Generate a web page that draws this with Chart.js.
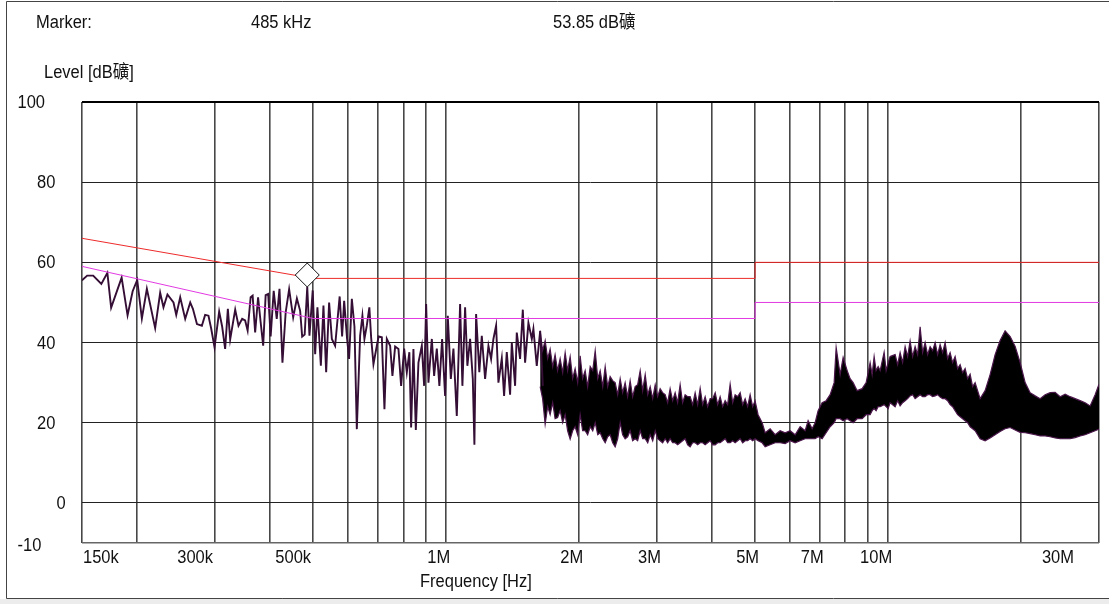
<!DOCTYPE html>
<html>
<head>
<meta charset="utf-8">
<script src="https://cdn.jsdelivr.net/npm/chart.js"></script>
<style>
  html, body { margin: 0; padding: 0; background: #fff; }
  #wrap { width: 1109px; height: 604px; }
</style>
</head>
<body>
<div id="wrap"><canvas id="emiChart" width="1109" height="604"></canvas></div>
<script>
// conducted emission scan, frequencies in kHz, levels in dBuV

// grid + labels
const xGridKHz = [150, 200, 300, 400, 500, 600, 700, 800, 900, 1000, 2000, 3000, 4000, 5000,
  6000, 7000, 8000, 9000, 10000, 20000, 30000];
const xLabelKHz = [150, 300, 500, 1000, 2000, 3000, 5000, 7000, 10000, 30000];
const xLabelText = ['150k', '300k', '500k', '1M', '2M', '3M', '5M', '7M', '10M', '30M'];
const yTicks = [-10, 0, 20, 40, 60, 80, 100];

// marker
const markerKHz = 485;
const markerDb = 53.85;

// limit lines
const qpLimitKHz = [150, 500, 5000, 5000, 30000];
const qpLimitDb = [66, 56, 56, 60, 60];
const avLimitKHz = [150, 500, 5000, 5000, 30000];
const avLimitDb = [59, 46, 46, 50, 50];

// low band trace (individual sweep points)
const traceKHz = [150, 154.1, 159, 165.9, 171.2, 174.6, 184.4, 190.2, 195.3, 200, 204.9, 210.3,
  219.6, 225.4, 229.3, 234.1, 241.6, 245.1, 250.2, 256.8, 263.6, 267.3, 273, 280.1, 284.9, 289.9,
  294, 299.2, 306.5, 311.3, 316.2, 320.7, 324.6, 333.2, 339, 345.5, 350.9, 355.5, 361.1, 364.9,
  369.7, 375.4, 380.5, 385.5, 390.5, 395.7, 400.8, 407.2, 413.7, 419.7, 426.2, 433.4, 441.3,
  450.7, 459.5, 467.4, 472.3, 478.5, 485, 490.6, 499, 505.4, 511.4, 520.6, 527.7, 535.2, 543.5,
  551.3, 560.8, 574.2, 581.6, 587.8, 596.9, 603.1, 611.8, 620.2, 627.9, 638.8, 646.5, 653.3,
  661.4, 670.3, 676.5, 684.7, 696.9, 703.4, 715.3, 725.1, 734.1, 746.9, 755.9, 766.6, 780,
  790.9, 803.4, 814.7, 825.6, 833.2, 843.3, 853.9, 865.6, 881, 891.6, 901, 911.9, 928.1, 939.3,
  952.5, 965.3, 979.2, 994.6, 1008.5, 1024.7, 1038.7, 1057, 1075.4, 1088.4, 1103.8, 1116.9,
  1132.9, 1149, 1158.6, 1168.9, 1188.7, 1204.1, 1225, 1246.4, 1263.9, 1279.2, 1297.3, 1313,
  1336.3, 1352.4, 1371.4, 1395.4, 1407.8, 1432.2, 1444.8, 1470, 1490.9, 1508.8, 1535.1, 1562.4,
  1575.5, 1603.4, 1632, 1655.2];
const traceDb = [55.5, 56.7, 56.7, 54.6, 57.4, 48.7, 56.2, 46.8, 52.8, 55.6, 46, 53.4,
  43.6, 52.4, 48.8, 52, 50, 46.9, 51.3, 45.9, 50, 48.4, 44.6, 44.2, 46.9, 46.7,
  43.5, 38.8, 47.7, 44, 38.4, 48.4, 40.8, 48.2, 44.2, 45.9, 45.5, 43, 51.3, 51.7,
  42.5, 51.3, 45, 39.2, 51.8, 52.1, 41.5, 52.9, 45.9, 53.4, 35, 47.5, 53.3,
  46.3, 51, 47.9, 41.5, 42, 53.85, 41.7, 53, 37.1, 48.8, 34.2, 49.2, 32.6, 50,
  40.9, 39.2, 51.5, 41.5, 50.4, 40.9, 35.9, 50.9, 44, 18.4, 41.7, 46.7, 40.9,
  44.2, 48.8, 41.3, 34.6, 39.2, 41.5, 41.3, 23.4, 40.9, 39.2, 31.7, 39, 38.4,
  29.2, 38.5, 32.6, 37.6, 18.8, 38.4, 18.2, 35, 39.2, 29.2, 49.6, 30, 40.9, 31.7,
  38.5, 29.2, 40.9, 26.7, 46.7, 30.9, 38.5, 21.7, 49.6, 29.2, 48.8, 34.2,
  40.9, 30.9, 14.5, 47.1, 32.6, 41.7, 30.9, 39.2, 35.9, 40.9, 44.2, 30,
  36, 26.7, 37.6, 27, 40, 29.2, 42.5, 35.9, 48.2, 35, 44.9, 40.9,
  43.4, 34.2, 42.9, 29.2];

// upper band: the sweep is too dense to resolve, so keep its top and bottom edge
const bandKHz = [1632, 1653, 1675, 1697, 1719, 1742, 1764, 1787, 1811, 1835, 1859, 1883, 1908,
  1933, 1958, 1984, 2010, 2036, 2063, 2090, 2118, 2146, 2174, 2203, 2231, 2261, 2290, 2320, 2350,
  2381, 2412, 2444, 2476, 2508, 2541, 2574, 2608, 2642, 2677, 2712, 2748, 2784, 2821, 2858, 2895,
  2933, 2972, 3010, 3049, 3089, 3130, 3171, 3212, 3254, 3297, 3340, 3384, 3428, 3473, 3519, 3565,
  3612, 3659, 3707, 3756, 3805, 3855, 3905, 3957, 4009, 4062, 4115, 4168, 4223, 4278, 4334, 4391,
  4449, 4507, 4566, 4626, 4687, 4748, 4810, 4873, 4937, 5000,
  5079, 5188, 5270, 5408, 5551, 5697,
  5848, 6002, 6161, 6323, 6490, 6592, 6731, 6837, 6944, 7091, 7240, 7393, 7549, 7628, 7788, 7911,
  8079, 8204, 8334, 8510, 8734, 8918, 9105, 9201, 9297, 9392, 9493, 9593, 9794, 9897, 10001,
  10105, 10372, 10508, 10645, 10784, 10926, 11069, 11214, 11361, 11510, 11661, 11814, 11969,
  12126, 12285, 12446, 12609, 12775, 12942, 13111, 13283, 13457, 13633, 13812, 13993, 14177,
  14363, 14551, 14742, 14935, 15131, 15329, 15530,
  15734, 16149, 16575, 17013, 17462, 17922, 18395, 18884, 19383, 19893, 20418, 20957, 21510,
  22077, 22660, 23258, 23872, 24501, 25148, 25812, 26493, 27192, 27910, 28646, 29402, 30000];
const bandHiDb = [42.9, 38, 40.5, 36, 38.4, 34, 37, 33, 36, 32.5, 37.5, 33, 36.5,
  31, 33.5, 30, 36.7, 31, 33, 29, 34, 33, 38, 31, 33, 29, 34, 29, 31.5,
  30.5, 30, 27, 31, 27.5, 30, 26.5, 30.5, 26.5, 29, 29.5, 33, 28, 32, 27, 29,
  26, 29.5, 26.5, 28.5, 27.5, 27, 25, 28.5, 25.5, 27.5, 25, 29.5, 25, 27, 26.5, 26.5,
  24.5, 27.5, 24.5, 28.6, 24.5, 26.5, 24, 26, 26, 27.5, 24.5, 26.5, 24, 25.5, 24.5, 29.6,
  25, 27, 26.5, 27.5, 24.5, 26, 24, 27, 24, 25.5,
  22, 20, 17.5, 18.5, 17, 18,
  17.5, 18, 17, 19, 18, 20.5, 18.5, 20, 23, 25, 25.5, 27, 30, 38.8, 32, 36.3,
  33, 31, 30, 28, 28.5, 30, 35, 32, 36.5, 33, 34, 33, 37.6, 33, 35,
  36.5, 37, 34.5, 37.5, 35, 39, 36.5, 40.4, 36.5, 39, 37, 43.9, 37.5,
  40, 37, 39, 38, 40, 37, 39.5, 37.5, 40, 36, 37.5, 35, 36.5,
  33.5, 34.5, 32.5, 33.5, 31, 32.1, 29,
  30, 26, 28, 32, 37, 40.5, 42.9, 41.5, 39, 35, 30, 27.5, 26.7,
  26, 27, 27.5, 27.6, 26.5, 27.1, 26.5, 26, 25.5, 25, 24.2, 27, 29.6];
const bandLoDb = [29, 26, 19.6, 24, 22, 25, 21, 21.3, 23, 20, 22, 18, 15.9,
  18, 19, 17, 22, 18, 18, 17, 19, 18, 20, 17, 17.5, 16, 15, 16.5, 17,
  15, 14, 16, 20, 17, 16, 16.5, 18, 15.5, 16, 15.5, 18, 16, 16, 15, 17,
  15.5, 18, 16, 15.5, 15, 16, 15, 16, 15, 15, 14.5, 15, 15.5, 16, 14.5, 14,
  15, 15, 14.5, 15, 15, 14.5, 15, 15.5, 14.5, 14.5, 15, 15, 15.5, 16, 15, 15,
  15.5, 15, 15.5, 16, 15, 15.5, 15.5, 16, 15.5, 16,
  15.5, 15, 14, 14.5, 15, 15,
  14.8, 15.5, 15, 15.5, 16, 16, 16, 16, 16.5, 16, 17.5, 19, 20, 21, 21, 20.5,
  21, 20.5, 20, 21, 21, 22, 22, 23, 23.5, 23, 24, 24, 24.5, 24, 23.5,
  25, 24, 25.5, 24.2, 25, 25.5, 26, 26.7, 27, 26, 26.5, 27, 26.5,
  26.5, 27, 27, 26.5, 26.7, 27, 26.4, 26, 26, 25.5, 24.5, 24, 23,
  22, 21.5, 21, 20.5, 20, 19, 18.5,
  18, 16, 15.5, 16.2, 17, 17.8, 18.5, 18.8, 18.2, 17.6, 17.5, 17.3, 17,
  16.7, 16.7, 16.5, 16.2, 16, 16, 16, 16.3, 16.7, 17, 17.5, 18, 18.4];

const pts = (xs, ys) => xs.map((v, i) => ({ x: v, y: ys[i] }));

const FONT = '16.5px "Liberation Sans", Arial, "Noto Sans CJK SC", sans-serif';

function stretchText(ctx, txt, x, y, align) {
  ctx.save();
  ctx.translate(x, y);
  ctx.scale(1, 1.1);
  ctx.textAlign = align || 'left';
  ctx.textBaseline = 'alphabetic';
  ctx.fillText(txt, 0, 0);
  ctx.restore();
}

const overlay = {
  id: 'overlay',
  beforeDraw(chart) {
    const ctx = chart.ctx;
    ctx.save();
    ctx.fillStyle = '#fff';
    ctx.fillRect(0, 0, chart.width, chart.height);
    ctx.restore();
  },
  afterDatasetsDraw(chart) {
    const { ctx, scales: { x, y } } = chart;
    const half = 12;
    const mx = x.getPixelForValue(markerKHz);
    const my = y.getPixelForValue(markerDb) - half;
    ctx.save();
    ctx.beginPath();
    ctx.moveTo(mx, my - half);
    ctx.lineTo(mx + half, my);
    ctx.lineTo(mx, my + half);
    ctx.lineTo(mx - half, my);
    ctx.closePath();
    ctx.fillStyle = '#fff';
    ctx.fill();
    ctx.strokeStyle = '#111';
    ctx.lineWidth = 1;
    ctx.stroke();
    ctx.restore();
  },
  afterDraw(chart) {
    const { ctx, scales: { x, y } } = chart;
    ctx.save();
    ctx.font = FONT;
    ctx.fillStyle = '#111';

    // header
    stretchText(ctx, 'Marker:', 36, 28);
    stretchText(ctx, '485 kHz', 251, 28);
    stretchText(ctx, '53.85 dB礦', 553, 28);
    stretchText(ctx, 'Level [dB礦]', 44, 78);

    // y tick labels
    yTicks.forEach(v => {
      const t = String(v);
      const py = y.getPixelForValue(v) + (v === -10 ? 8 : 6);
      stretchText(ctx, t, 76 - 19.5 * t.length, py);
    });

    // x tick labels
    xLabelKHz.forEach((v, i) => {
      const px = x.getPixelForValue(v);
      const t = xLabelText[i];
      if (i === 0) stretchText(ctx, t, px + 1, 563, 'left');
      else if (i === xLabelKHz.length - 1) stretchText(ctx, t, px - 25, 563, 'right');
      else stretchText(ctx, t, px + (t.endsWith('k') ? -2 : 4), 563, 'right');
    });
    stretchText(ctx, 'Frequency [Hz]', 420, 587);

    // outer frame
    ctx.strokeStyle = '#444';
    ctx.lineWidth = 1;
    ctx.beginPath();
    ctx.moveTo(6.5, 598.5); ctx.lineTo(6.5, 1.5); ctx.lineTo(1109, 1.5);
    ctx.moveTo(6.5, 598.5); ctx.lineTo(1109, 598.5);
    ctx.stroke();
    ctx.fillStyle = '#ececec';
    ctx.fillRect(0, 599, 1109, 5);
    ctx.restore();
  }
};

new Chart(document.getElementById('emiChart'), {
  type: 'line',
  data: {
    datasets: [
      { label: 'QP limit', data: pts(qpLimitKHz, qpLimitDb), borderColor: '#ee2a2a', borderWidth: 1,
        pointRadius: 0, fill: false, order: 1 },
      { label: 'AV limit', data: pts(avLimitKHz, avLimitDb), borderColor: '#e23ae2', borderWidth: 1,
        pointRadius: 0, fill: false, order: 2 },
      { label: 'Level', data: pts(traceKHz, traceDb), borderColor: '#340e34', borderWidth: 1.9,
        pointRadius: 0, fill: false, order: 3 },
      { label: 'band top', data: pts(bandKHz, bandHiDb), borderColor: '#4a164a', borderWidth: 1.2,
        pointRadius: 0, fill: false, order: 4 },
      { label: 'band bottom', data: pts(bandKHz, bandLoDb), borderColor: '#4a164a', borderWidth: 1.2,
        pointRadius: 0, fill: '-1', backgroundColor: '#000', order: 5 }
    ]
  },
  options: {
    responsive: false,
    animation: false,
    devicePixelRatio: 1,
    layout: { padding: { left: 82, right: 10, top: 102, bottom: 61 } },
    plugins: { legend: { display: false }, tooltip: { enabled: false } },
    elements: { line: { tension: 0 } },
    scales: {
      x: {
        type: 'logarithmic', min: 150, max: 30000,
        afterBuildTicks: s => { s.ticks = xGridKHz.map(v => ({ value: v })); },
        afterFit: s => { s.height = 0; },
        ticks: { display: false },
        border: { display: false },
        grid: { color: '#474747', lineWidth: 1.6, drawTicks: false }
      },
      y: {
        type: 'linear', min: -10, max: 100,
        afterBuildTicks: s => { s.ticks = yTicks.map(v => ({ value: v })); },
        afterFit: s => { s.width = 0; },
        ticks: { display: false },
        border: { display: false },
        grid: {
          drawTicks: false,
          color: c => c.tick.value === 100 ? '#000' : (c.tick.value === -10 ? '#666' : '#222'),
          lineWidth: c => c.tick.value === 100 ? 2 : (c.tick.value === -10 ? 1.5 : 1)
        }
      }
    }
  },
  plugins: [overlay]
});
</script>
</body>
</html>
